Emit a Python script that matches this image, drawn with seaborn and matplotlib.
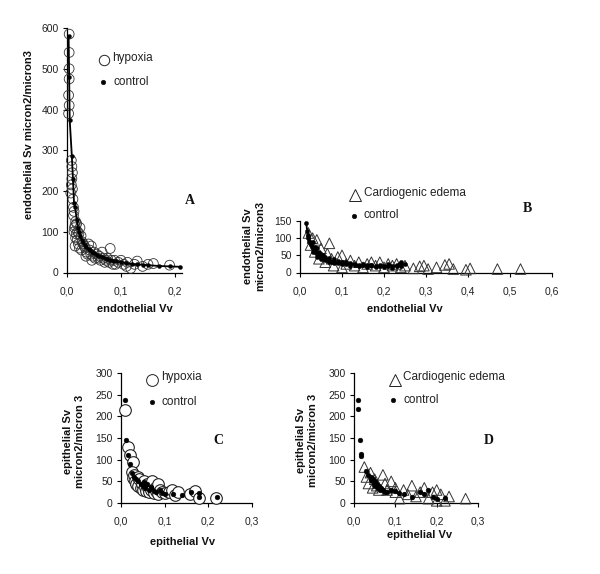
import matplotlib
matplotlib.use('Agg')
import matplotlib.pyplot as plt
import seaborn as sns
import pandas as pd
from matplotlib.lines import Line2D

# ---------------- data ----------------
# Panel A: endothelial, hypoxia vs control
a_hyp_x = [0.004, 0.004, 0.004, 0.004, 0.003, 0.004, 0.003,
           0.008, 0.009, 0.010, 0.009, 0.008, 0.010, 0.007, 0.011,
           0.012, 0.013, 0.012, 0.015, 0.014, 0.016, 0.013, 0.017, 0.018, 0.016, 0.015,
           0.020, 0.022, 0.019, 0.024, 0.021, 0.026, 0.028, 0.023, 0.030, 0.027, 0.032,
           0.034, 0.036, 0.038, 0.040, 0.042, 0.035, 0.045, 0.044, 0.048, 0.050, 0.052, 0.046,
           0.055, 0.058, 0.060, 0.062, 0.065, 0.068, 0.070, 0.072, 0.075, 0.078, 0.080, 0.082, 0.085,
           0.088, 0.090, 0.095, 0.100, 0.105, 0.110, 0.112, 0.118, 0.125, 0.130, 0.140, 0.150, 0.160, 0.190]
a_hyp_y = [585, 540, 500, 475, 435, 410, 390,
           275, 260, 245, 230, 215, 205, 195, 180,
           160, 150, 140, 115, 110, 125, 100, 95, 120, 85, 65,
           100, 95, 80, 110, 70, 90, 75, 60, 70, 55, 65,
           60, 50, 45, 70, 55, 40, 65, 45, 40, 50, 35, 30,
           45, 35, 40, 30, 50, 35, 25, 30, 35, 25, 59, 30, 20,
           30, 20, 25, 30, 20, 15, 25, 10, 20, 28, 15, 20, 22, 18]
a_ctl_x = [0.003, 0.004, 0.005, 0.009, 0.011, 0.013, 0.015, 0.018, 0.020, 0.022, 0.025, 0.028,
           0.030, 0.033, 0.036, 0.040, 0.043, 0.046, 0.050, 0.055, 0.060, 0.065, 0.070, 0.075,
           0.080, 0.085, 0.090, 0.100, 0.110, 0.120, 0.130, 0.140, 0.150, 0.170, 0.190, 0.210]
a_ctl_y = [580, 480, 375, 285, 230, 170, 160, 130, 110, 100, 90, 80,
           75, 68, 62, 58, 55, 50, 47, 44, 40, 38, 35, 33,
           31, 29, 28, 25, 23, 21, 20, 19, 18, 16, 15, 14]

# Panel B: endothelial, cardiogenic edema vs control
b_card_x = [0.020, 0.025, 0.030, 0.035, 0.040, 0.045, 0.050, 0.060, 0.065, 0.070, 0.075, 0.080, 0.090,
            0.100, 0.100, 0.110, 0.120, 0.130, 0.140, 0.150, 0.160, 0.170, 0.180, 0.190, 0.200, 0.210,
            0.220, 0.230, 0.240, 0.250, 0.270, 0.285, 0.295, 0.305, 0.325, 0.345, 0.355, 0.365,
            0.395, 0.405, 0.470, 0.525]
b_card_y = [115, 80, 100, 60, 95, 40, 70, 30, 55, 85, 40, 20, 45,
            50, 15, 25, 35, 20, 30, 15, 25, 30, 20, 30, 15, 25,
            20, 25, 15, 20, 12, 18, 20, 10, 15, 22, 25, 10,
            8, 12, 10, 10]
b_ctl_x = [0.015, 0.017, 0.019, 0.020, 0.022, 0.024, 0.026, 0.028, 0.030, 0.033, 0.036, 0.040, 0.044,
           0.048, 0.052, 0.056, 0.060, 0.065, 0.070, 0.075, 0.080, 0.090, 0.100, 0.110, 0.120, 0.130,
           0.140, 0.150, 0.160, 0.170, 0.180, 0.190, 0.200, 0.210, 0.220, 0.230, 0.240, 0.250,
           0.020, 0.025, 0.030, 0.035, 0.040, 0.045, 0.050, 0.055, 0.060, 0.070, 0.080, 0.090, 0.100,
           0.110, 0.120, 0.130, 0.150, 0.170, 0.190, 0.210, 0.230, 0.030, 0.040, 0.050, 0.060, 0.070,
           0.080, 0.100, 0.120, 0.140, 0.160, 0.180, 0.200, 0.220, 0.240]
b_ctl_y = [145, 120, 105, 100, 92, 86, 80, 75, 70, 65, 60, 55, 50,
           46, 43, 40, 38, 36, 34, 32, 30, 28, 27, 25, 24, 23,
           22, 22, 21, 21, 20, 20, 20, 19, 19, 19, 19, 25,
           110, 85, 90, 75, 70, 60, 55, 50, 45, 42, 38, 33, 30,
           30, 28, 26, 25, 23, 22, 24, 22, 60, 45, 40, 35, 30,
           28, 24, 20, 18, 17, 15, 15, 14, 30]

# Panel C: epithelial, hypoxia vs control
c_hyp_x = [0.009, 0.017, 0.021, 0.028, 0.025, 0.028, 0.030, 0.033, 0.035, 0.038,
           0.040, 0.042, 0.045, 0.048, 0.050, 0.052, 0.055, 0.058, 0.060, 0.062,
           0.065, 0.068, 0.070, 0.072, 0.075, 0.078, 0.080, 0.085, 0.086, 0.090,
           0.095, 0.100, 0.110, 0.116, 0.124, 0.130, 0.158, 0.170, 0.178, 0.217]
c_hyp_y = [215, 130, 111, 95, 72, 57, 65, 50, 45, 60,
           40, 55, 35, 45, 30, 50, 38, 28, 45, 35,
           25, 40, 30, 50, 22, 35, 28, 20, 45, 30,
           25, 22, 25, 30, 18, 25, 20, 28, 12, 11]
c_ctl_x = [0.009, 0.012, 0.015, 0.020, 0.025, 0.030, 0.035, 0.040, 0.045, 0.050,
           0.052, 0.055, 0.058, 0.060, 0.065, 0.068, 0.070, 0.075, 0.080, 0.090,
           0.095, 0.100, 0.120, 0.140, 0.160, 0.180, 0.180, 0.220]
c_ctl_y = [237, 145, 110, 90, 70, 60, 55, 50, 45, 40,
           48, 35, 42, 45, 30, 38, 35, 28, 25, 30,
           22, 20, 20, 18, 25, 22, 15, 15]

# Panel D: epithelial, cardiogenic edema vs control
d_card_x = [0.025, 0.030, 0.035, 0.040, 0.045, 0.050, 0.055, 0.060, 0.070, 0.075,
            0.080, 0.090, 0.100, 0.100, 0.110, 0.120, 0.130, 0.140, 0.150, 0.160,
            0.170, 0.180, 0.190, 0.200, 0.200, 0.210, 0.220, 0.230, 0.270]
d_card_y = [83, 60, 45, 70, 35, 55, 40, 30, 65, 45,
            30, 50, 25, 35, 10, 30, 20, 40, 15, 25,
            35, 10, 25, 30, 5, 20, 5, 15, 10]
d_ctl_x = [0.009, 0.009, 0.014, 0.016, 0.017, 0.030, 0.035, 0.040, 0.042, 0.045,
           0.048, 0.050, 0.052, 0.055, 0.058, 0.060, 0.062, 0.065, 0.070, 0.075,
           0.080, 0.090, 0.100, 0.110, 0.120, 0.140, 0.160, 0.170, 0.180, 0.190,
           0.200, 0.220]
d_ctl_y = [237, 218, 145, 113, 108, 75, 65, 60, 52, 55,
           45, 50, 40, 45, 35, 40, 30, 35, 30, 25,
           25, 30, 28, 22, 20, 15, 25, 20, 30, 15,
           10, 12]

# ticks
a_xticks = [0.0, 0.1, 0.2]
a_xlabels = ['0,0', '0,1', '0,2']
a_yticks = [0, 100, 200, 300, 400, 500, 600]
b_xticks = [0.0, 0.1, 0.2, 0.3, 0.4, 0.5, 0.6]
b_xlabels = ['0,0', '0,1', '0,2', '0,3', '0,4', '0,5', '0,6']
b_yticks = [0, 50, 100, 150]
cd_xticks = [0.0, 0.1, 0.2, 0.3]
cd_xlabels = ['0,0', '0,1', '0,2', '0,3']
cd_yticks = [0, 50, 100, 150, 200, 250, 300]

# ---------------- figure ----------------
sns.set_style('ticks')
plt.rcParams['font.family'] = ['Liberation Sans', 'DejaVu Sans']

W, H = 600, 574
fig = plt.figure(figsize=(6.0, 5.74), dpi=100)
fig.patch.set_facecolor('white')


def box(l, r, t, b):
    return [l / W, 1 - b / H, (r - l) / W, (b - t) / H]


def style(ax, xlim, ylim, xt, xl, yt):
    ax.set_xlim(*xlim)
    ax.set_ylim(*ylim)
    ax.set_xticks(xt)
    ax.set_xticklabels(xl)
    ax.set_yticks(yt)
    ax.set_yticklabels([str(v) for v in yt])
    for s in ['top', 'right']:
        ax.spines[s].set_visible(False)
    for s in ['left', 'bottom']:
        ax.spines[s].set_color('black')
        ax.spines[s].set_linewidth(0.9)
    ax.tick_params(axis='both', direction='out', length=3, width=0.8, colors='black',
                   labelsize=7.5, labelcolor='#222222')
    ax.tick_params(axis='x', pad=7)
    ax.tick_params(axis='y', pad=3)
    ax.set_xlabel('')
    ax.set_ylabel('')
    ax.set_facecolor('white')


def scat(ax, x, y, marker, s, face, lw=0.7, edge='#222222'):
    sns.scatterplot(x=x, y=y, ax=ax, marker=marker, s=s, facecolor=face,
                    edgecolor=edge, linewidth=lw, clip_on=False, legend=False, zorder=3)


def ctl(ax, x, y, line=False, s=9):
    if line:
        df = pd.DataFrame({'x': x, 'y': y}).sort_values('x')
        sns.lineplot(data=df, x='x', y='y', ax=ax, sort=False, estimator=None,
                     color='black', linewidth=1.3, zorder=4)
    sns.scatterplot(x=x, y=y, ax=ax, marker='o', s=s, color='black',
                    edgecolor='black', linewidth=0.3, clip_on=False, legend=False, zorder=5)


# A
axA = fig.add_axes(box(67, 182, 28, 272.5))
scat(axA, a_hyp_x, a_hyp_y, 'o', 50, 'none', lw=0.6, edge='#333333')
ctl(axA, a_ctl_x, a_ctl_y, line=True, s=8)
style(axA, (0, 0.213), (0, 600), a_xticks, a_xlabels, a_yticks)

# B
axB = fig.add_axes(box(300, 552, 221, 272.5))
scat(axB, b_card_x, b_card_y, '^', 58, 'none', lw=0.7, edge='#333333')
ctl(axB, b_ctl_x, b_ctl_y, line=True, s=9)
style(axB, (0, 0.6), (0, 150), b_xticks, b_xlabels, b_yticks)

# C
axC = fig.add_axes(box(121, 251.7, 373, 503))
scat(axC, c_hyp_x, c_hyp_y, 'o', 70, 'white', lw=0.8)
ctl(axC, c_ctl_x, c_ctl_y, s=12)
style(axC, (0, 0.3), (0, 300), cd_xticks, cd_xlabels, cd_yticks)

# D
axD = fig.add_axes(box(354, 478, 373, 503))
scat(axD, d_card_x, d_card_y, '^', 58, 'none', lw=0.7, edge='#333333')
ctl(axD, d_ctl_x, d_ctl_y, s=12)
style(axD, (0, 0.3), (0, 300), cd_xticks, cd_xlabels, cd_yticks)


# ---------------- text ----------------
def ftext(x, y, s, **kw):
    fig.text(x / W, 1 - y / H, s, **kw)


def fmark(x, y, marker, ms, face):
    fig.add_artist(Line2D([x / W], [1 - y / H], marker=marker, markersize=ms,
                          markerfacecolor=face, markeredgecolor='#222222',
                          markeredgewidth=0.7, linestyle='none',
                          transform=fig.transFigure))


lab = dict(fontsize=8, fontweight='bold', color='#111111')
# y labels
ftext(29, 135, 'endothelial Sv micron2/micron3', rotation=90, ha='center', va='center', **lab)
ftext(254, 246, 'endothelial Sv\nmicron2/micron3', rotation=90, ha='center', va='center',
      linespacing=1.2, **lab)
ftext(74, 441, 'epithelial Sv\nmicron2/micron 3', rotation=90, ha='center', va='center',
      linespacing=1.2, **lab)
ftext(307, 440, 'epithelial Sv\nmicron2/micron 3', rotation=90, ha='center', va='center',
      linespacing=1.2, **lab)
# x labels
ftext(135, 309, 'endothelial Vv', ha='center', va='center', **lab)
ftext(405, 309, 'endothelial Vv', ha='center', va='center', **lab)
ftext(183, 542, 'epithelial Vv', ha='center', va='center', **lab)
ftext(420, 535, 'epithelial Vv', ha='center', va='center', **lab)

# legends
leg = dict(fontsize=8.5, color='#222222', va='center', ha='left')
fmark(104, 60, 'o', 7.5, 'white')
ftext(112, 58, 'hypoxia', **leg)
fmark(103, 82, 'o', 3, 'black')
ftext(113, 82, 'control', **leg)

fmark(355, 195, '^', 8, 'white')
ftext(364, 193, 'Cardiogenic edema', **leg)
fmark(354, 216, 'o', 3, 'black')
ftext(364, 215, 'control', **leg)

fmark(152, 380, 'o', 8.5, 'white')
ftext(161, 377, 'hypoxia', **leg)
fmark(152, 402, 'o', 3, 'black')
ftext(161, 402, 'control', **leg)

fmark(395, 380, '^', 8, 'white')
ftext(403, 377, 'Cardiogenic edema', **leg)
fmark(393, 400, 'o', 3, 'black')
ftext(403, 400, 'control', **leg)

# panel letters
let = dict(fontsize=10, fontweight='bold', family=['Liberation Serif', 'DejaVu Serif'],
           ha='center', va='center', color='#111111')
ftext(190, 200, 'A', **let)
ftext(527, 209, 'B', **let)
ftext(218, 440, 'C', **let)
ftext(489, 440, 'D', **let)

fig.savefig('out.png', dpi=100, facecolor='white')
